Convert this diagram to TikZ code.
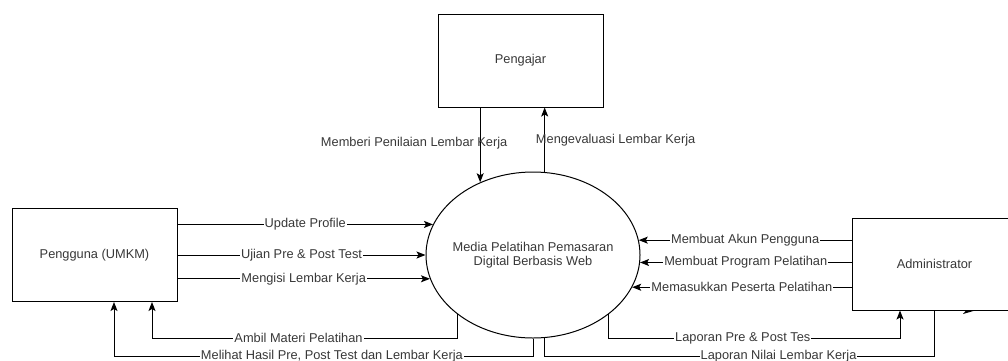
\documentclass[tikz,border=0pt]{standalone}
\usepackage{fontspec}
\setmainfont{Liberation Sans}
\usetikzlibrary{arrows.meta,shapes.geometric}

\begin{document}
\begin{tikzpicture}[x=1pt,y=-1pt,>={Stealth[length=9pt,width=7pt,inset=2pt]},line width=1pt,
  every node/.style={font=\fontsize{12.8}{14}\selectfont,text=black!78},
  entity/.style={rectangle,draw,minimum width=165pt,minimum height=93pt},
  flowlabel/.style={fill=white,inner sep=1pt}]

\clip (0,0) rectangle (1008,360);

% ------------------------------------------------------------------
% External entities
% ------------------------------------------------------------------
\node[entity] (Pengajar) at (520.5,60.5) {Pengajar};
\node[entity] (Pengguna) at (94.5,255) {Pengguna (UMKM)};
\node[entity,minimum height=92pt] (Admin) at (934.5,264) {Administrator};

% ------------------------------------------------------------------
% Process
% ------------------------------------------------------------------
\node[ellipse,draw,minimum width=214pt,minimum height=166pt,inner sep=0pt,
  label={[align=center]center:Media Pelatihan Pemasaran\\Digital Berbasis Web}]
  (Media) at (533,255) {};

% ------------------------------------------------------------------
% Pengajar <-> process
% ------------------------------------------------------------------
\draw[->] (Media.126 |- Pengajar.south) -- (Media.126)
  node[pos=.48,xshift=-66pt] {Memberi Penilaian Lembar Kerja};

\draw[->] (Media.82) -- (Media.82 |- Pengajar.south)
  node[pos=.5,xshift=71pt] {Mengevaluasi Lembar Kerja};

% ------------------------------------------------------------------
% Pengguna -> process
% ------------------------------------------------------------------
\draw[->] (Media.163 -| Pengguna.east) -- node[flowlabel] {Update Profile} (Media.163);
\draw[->] (Media.180 -| Pengguna.east) -- node[flowlabel] {Ujian Pre \& Post Test} (Media.180);
\draw[->] (Media.193 -| Pengguna.east) -- node[flowlabel] {Mengisi Lembar Kerja} (Media.193);

% ------------------------------------------------------------------
% Administrator -> process
% ------------------------------------------------------------------
\draw[->] (Media.8 -| Admin.west) -- node[flowlabel] {Membuat Akun Pengguna} (Media.8);
\draw[->] (Media.-4 -| Admin.west) -- node[flowlabel] {Membuat Program Pelatihan} (Media.-4);
\draw[->] (Media.-18 -| Admin.west) -- node[flowlabel] {Memasukkan Peserta Pelatihan} (Media.-18);

% ------------------------------------------------------------------
% Process -> Pengguna (underneath)
% ------------------------------------------------------------------
\draw[->] (Media.-142) -- ++(0,24)
  -| node[flowlabel,pos=.26] {Ambil Materi Pelatihan} ([xshift=57.5pt]Pengguna.south);

\draw[->] (Media.south) -- ++(0,18)
  -| node[flowlabel,pos=.24] {Melihat Hasil Pre, Post  Test dan Lembar Kerja} ([xshift=19.5pt]Pengguna.south);

% ------------------------------------------------------------------
% Process -> Administrator (underneath)
% ------------------------------------------------------------------
\draw[->] (Media.-38) -- ++(0,24)
  -| node[flowlabel,pos=.23] {Laporan Pre \& Post Tes} ([xshift=-34.5pt]Admin.south);

\draw (Media.-82) -- ++(0,18.5)
  -| node[flowlabel,pos=.3] {Laporan Nilai Lembar Kerja} (Admin.south);

% stray arrow tip under the Administrator box
\fill (963,314) -- (975,310.5) -- (966,310.5) -- cycle;

\end{tikzpicture}
\end{document}
